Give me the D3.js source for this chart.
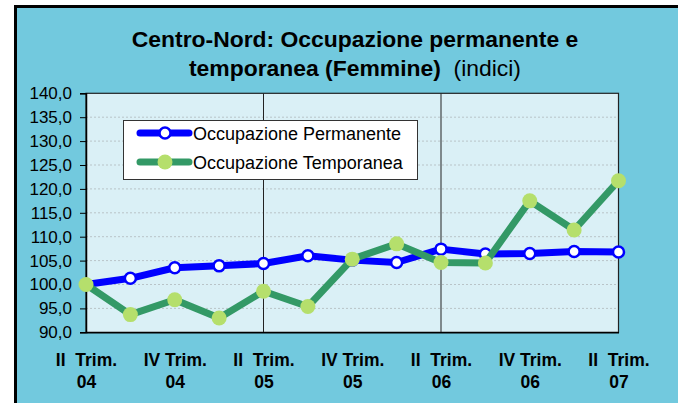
<!DOCTYPE html>
<html>
<head>
<meta charset="utf-8">
<script src="https://cdn.jsdelivr.net/npm/d3@7"></script>
<style>
  html, body { margin: 0; padding: 0; background: #ffffff; }
  svg { display: block; }
</style>
</head>
<body>
<svg id="chart" width="678" height="403"></svg>
<script>
// Quarters from II 2004 to II 2007
const quarters = ["II", "III", "IV", "I", "II", "III", "IV", "I", "II", "III", "IV", "I", "II"];
const years    = ["04", "04", "04", "05", "05", "05", "05", "06", "06", "06", "06", "07", "07"];
const categories = quarters.map((q, i) => q + " Trim. " + years[i]);

// Index values (II trim. 2004 = 100)
const permanente = [100.0, 101.3, 103.5, 103.9, 104.4, 106.0, 105.1, 104.6, 107.4, 106.4, 106.5, 106.9, 106.8];
const temporanea = [100.0, 93.7, 96.8, 93.0, 98.6, 95.4, 105.3, 108.5, 104.6, 104.5, 117.5, 111.4, 121.7];

const seriesNames = ["Occupazione Permanente", "Occupazione Temporanea"];
const yTicks = [90, 95, 100, 105, 110, 115, 120, 125, 130, 135, 140];
const labelledCategories = categories.filter((c, i) => i % 2 === 0);
const dividerCategories = [categories[4], categories[8]];

const svg = d3.select("#chart");
const W = 678, H = 403;

// Outer frame
svg.append("rect")
  .attr("x", 15.5).attr("y", 6.5)
  .attr("width", W + 20).attr("height", H + 20)
  .attr("fill", "#72c9de")
  .attr("stroke", "#000").attr("stroke-width", 3);

const plot = { left: 86, right: 618.5, top: 93.3, bottom: 332.3 };

const x = d3.scalePoint().domain(categories).range([plot.left, plot.right]);
const y = d3.scaleLinear().domain([90, 140]).range([plot.bottom, plot.top]);

// Plot area
svg.append("rect")
  .attr("x", plot.left).attr("y", plot.top)
  .attr("width", plot.right - plot.left).attr("height", plot.bottom - plot.top)
  .attr("fill", "#daf0f6");

// Horizontal gridlines
svg.append("g")
  .selectAll("line")
  .data(yTicks.slice(1, -1))
  .join("line")
  .attr("x1", plot.left).attr("x2", plot.right)
  .attr("y1", d => y(d)).attr("y2", d => y(d))
  .attr("stroke", "#b9c4c8").attr("stroke-width", 1)
  .attr("stroke-dasharray", "2,2");

// Year dividers
svg.append("g")
  .selectAll("line")
  .data(dividerCategories)
  .join("line")
  .attr("x1", d => x(d)).attr("x2", d => x(d))
  .attr("y1", plot.top).attr("y2", plot.bottom)
  .attr("stroke", "#222").attr("stroke-width", 1);

// Plot border
svg.append("rect")
  .attr("x", plot.left).attr("y", plot.top)
  .attr("width", plot.right - plot.left).attr("height", plot.bottom - plot.top)
  .attr("fill", "none").attr("stroke", "#222").attr("stroke-width", 1.2);

// Y axis
const yAxis = svg.append("g")
  .attr("transform", `translate(${plot.left},0)`)
  .call(d3.axisLeft(y).tickValues(yTicks).tickSize(6).tickPadding(8)
    .tickFormat(d => d3.format(".1f")(d).replace(".", ",")));
yAxis.select(".domain").attr("stroke", "#000").attr("stroke-width", 1.5);
yAxis.selectAll(".tick line").attr("stroke", "#000").attr("stroke-width", 1);
yAxis.selectAll("text")
  .attr("font-family", "Liberation Sans, Arial, sans-serif")
  .attr("font-size", 17).attr("fill", "#000");

// X axis labels (two lines, every other quarter)
const xAxis = svg.append("g")
  .attr("transform", `translate(0,${plot.bottom})`)
  .call(d3.axisBottom(x).tickValues(labelledCategories).tickSize(0).tickFormat(""));
xAxis.select(".domain").attr("stroke", "#000").attr("stroke-width", 1.5);
xAxis.selectAll(".tick text").remove();
xAxis.selectAll(".tick").each(function(d) {
  const i = categories.indexOf(d);
  const t = d3.select(this).append("text")
    .attr("font-family", "Liberation Sans, Arial, sans-serif")
    .attr("font-size", 17.5).attr("font-weight", "bold")
    .attr("fill", "#000").attr("text-anchor", "middle")
    .attr("xml:space", "preserve");
  t.append("tspan").attr("x", 0).attr("y", 34)
    .text(quarters[i] === "II" ? "II  Trim." : quarters[i] + " Trim.");
  t.append("tspan").attr("x", 0).attr("y", 55.5).text(years[i]);
});

// Series
const line = d3.line().x((d, i) => x(categories[i])).y(d => y(d));

svg.append("path").datum(permanente)
  .attr("d", line).attr("fill", "none")
  .attr("stroke", "#0000ff").attr("stroke-width", 7)
  .attr("stroke-linejoin", "round");
svg.append("g").selectAll("circle").data(permanente).join("circle")
  .attr("cx", (d, i) => x(categories[i])).attr("cy", d => y(d))
  .attr("r", 5.5).attr("fill", "#fff")
  .attr("stroke", "#0000ff").attr("stroke-width", 2.5);

svg.append("path").datum(temporanea)
  .attr("d", line).attr("fill", "none")
  .attr("stroke", "#339966").attr("stroke-width", 7)
  .attr("stroke-linejoin", "round");
svg.append("g").selectAll("circle").data(temporanea).join("circle")
  .attr("cx", (d, i) => x(categories[i])).attr("cy", d => y(d))
  .attr("r", 7.5).attr("fill", "#b5df6c");

// Legend
const legend = svg.append("g");
legend.append("rect")
  .attr("x", 123.5).attr("y", 120.5).attr("width", 294).attr("height", 59)
  .attr("fill", "#fff").attr("stroke", "#333").attr("stroke-width", 1);
const legendStyles = [
  { stroke: "#0000ff", fill: "#fff", r: 5.5, sw: 2.5, ms: "#0000ff" },
  { stroke: "#339966", fill: "#b5df6c", r: 7.5, sw: 0, ms: "none" }
];
seriesNames.forEach((name, i) => {
  const cy = 133 + i * 29;
  const s = legendStyles[i];
  legend.append("line")
    .attr("x1", 140).attr("x2", 189).attr("y1", cy).attr("y2", cy)
    .attr("stroke", s.stroke).attr("stroke-width", 7).attr("stroke-linecap", "round");
  legend.append("circle")
    .attr("cx", 165).attr("cy", cy).attr("r", s.r)
    .attr("fill", s.fill).attr("stroke", s.ms).attr("stroke-width", s.sw);
  legend.append("text")
    .attr("x", 193).attr("y", cy + 6.5)
    .attr("font-family", "Liberation Sans, Arial, sans-serif")
    .attr("font-size", 18).attr("fill", "#000")
    .text(name);
});

// Title
const title = svg.append("text")
  .attr("font-family", "Liberation Sans, Arial, sans-serif")
  .attr("font-size", 22.9).attr("fill", "#000")
  .attr("text-anchor", "middle").attr("xml:space", "preserve");
title.append("tspan").attr("x", 355).attr("y", 47)
  .attr("font-weight", "bold").text("Centro-Nord: Occupazione permanente e");
const l2 = title.append("tspan").attr("x", 355).attr("y", 76);
l2.append("tspan").attr("font-weight", "bold").text("temporanea (Femmine)");
l2.append("tspan").attr("font-weight", "normal").text("  (indici)");
</script>
</body>
</html>
